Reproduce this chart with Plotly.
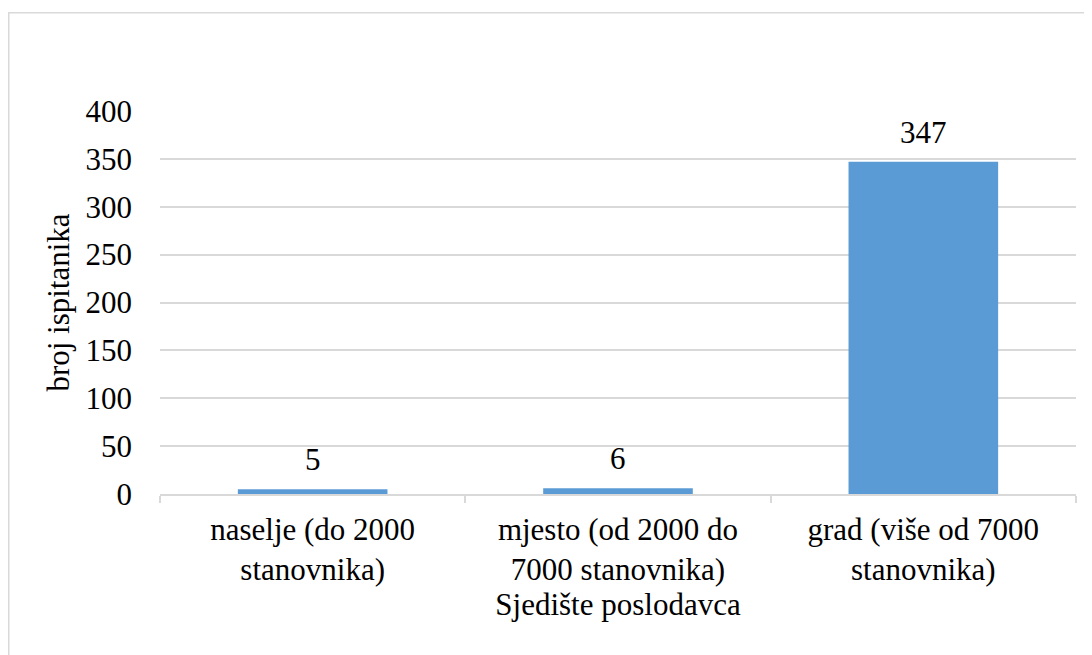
import plotly.graph_objects as go

categories = ["naselje (do 2000<br>stanovnika)", "mjesto (od 2000 do<br>7000 stanovnika)", "grad (više od 7000<br>stanovnika)"]
values = [5, 6, 347]
y_ticks = [0, 50, 100, 150, 200, 250, 300, 350, 400]

W, H = 1092, 655
OFF = 8  # page body margin
L, T = 160 - OFF, 111 - OFF
pw, ph = 916, 383
R = W - L - pw
B = H - T - ph

def px(x):
    return (x - OFF - L) / pw

def py(y):
    return (H - B - (y - OFF)) / ph

FONT = "Times New Roman, Liberation Serif, serif"
FS = 31
GRID = "#D9D9D9"

fig = go.Figure()
fig.add_trace(go.Bar(
    x=categories, y=values,
    marker=dict(color="#5B9BD5", line=dict(width=0)),
    width=0.49,
    cliponaxis=False,
))

for c, v in zip(categories, values):
    fig.add_annotation(
        x=c, y=v, text=str(v), showarrow=False,
        yanchor="bottom", yshift=10,
        font=dict(family=FONT, size=FS, color="#000000"),
    )

fig.update_layout(
    width=W, height=H,
    margin=dict(l=L, r=R, t=T, b=B),
    paper_bgcolor="white", plot_bgcolor="white",
    font=dict(family=FONT, size=FS, color="#000000"),
    showlegend=False,
    xaxis=dict(
        showline=True, linecolor=GRID, linewidth=1.5,
        ticks="outside", tickson="boundaries", ticklen=7, tickcolor=GRID, tickwidth=1.5,
        ticklabelstandoff=7,
        showgrid=False,
        tickfont=dict(family=FONT, size=FS),
        title=dict(text="Sjedište poslodavca", font=dict(family=FONT, size=FS), standoff=0),
    ),
    yaxis=dict(
        range=[0, 400], tickvals=y_ticks,
        showgrid=True, gridcolor=GRID, gridwidth=1.5,
        zeroline=False, showline=False, ticks="",
        ticklabelstandoff=27,
        tickfont=dict(family=FONT, size=FS),
        title=dict(text="broj ispitanika", font=dict(family=FONT, size=FS), standoff=6),
    ),
    shapes=[dict(
        type="rect", xref="paper", yref="paper",
        x0=px(8.75), x1=px(1110), y0=py(12.75), y1=py(680),
        line=dict(color=GRID, width=1.5), fillcolor="rgba(0,0,0,0)", layer="below",
    )],
)

fig.write_html("out.html")
